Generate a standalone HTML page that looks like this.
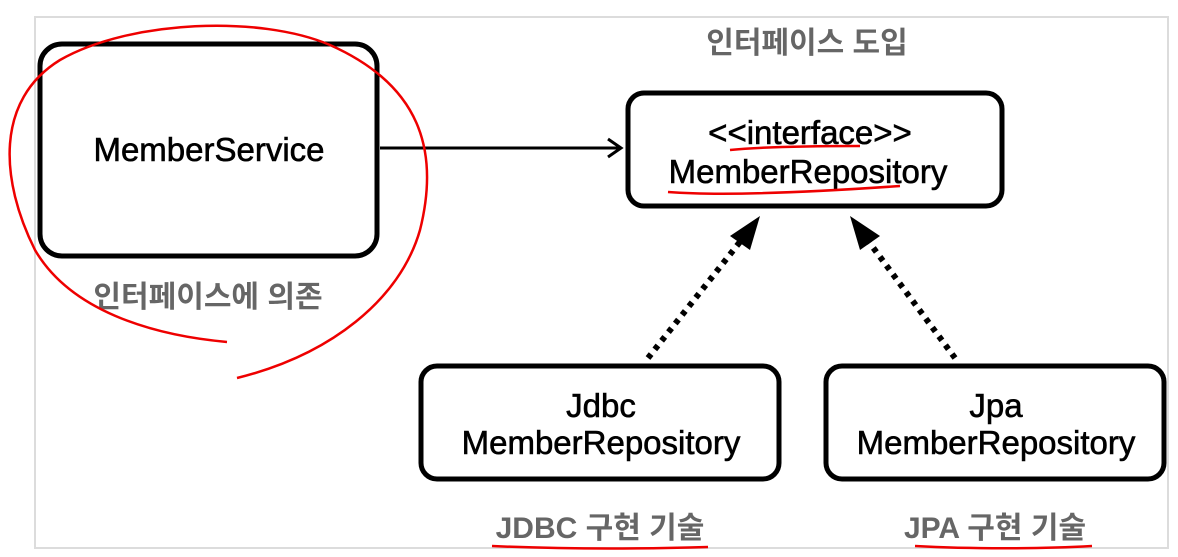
<!DOCTYPE html>
<html><head><meta charset="utf-8"><style>
body{margin:0;background:#fff;width:1178px;height:557px;overflow:hidden;font-family:"Liberation Sans","Noto Sans CJK KR",sans-serif}
</style></head><body>
<svg width="1178" height="557" xmlns="http://www.w3.org/2000/svg" style="position:absolute;left:0;top:0">
<rect x="35" y="17" width="1133" height="531" fill="#fff" stroke="#dcdcdc" stroke-width="2"/>
<g fill="none" stroke="#000" stroke-width="5">
<rect x="40" y="44" width="337" height="212" rx="22"/>
<rect x="628" y="93" width="374" height="113" rx="16"/>
<rect x="421" y="366" width="358" height="113" rx="16"/>
<rect x="826" y="366" width="338" height="113" rx="16"/>
</g>
<line x1="380" y1="148" x2="620" y2="148" stroke="#000" stroke-width="3"/>
<polyline points="608,139 621,148 608,157" fill="none" stroke="#000" stroke-width="3"/>
<line x1="648" y1="358" x2="743" y2="238" stroke="#000" stroke-width="6" stroke-dasharray="5,6"/>
<polygon points="760,216 730,236 750,250" fill="#000"/>
<line x1="955" y1="358" x2="866" y2="238" stroke="#000" stroke-width="6" stroke-dasharray="5,6"/>
<polygon points="850,216 860,250 880,236" fill="#000"/>
<g font-family="Liberation Sans, sans-serif" fill="#000" stroke="#000" stroke-width="0.6" font-size="33" text-anchor="middle">
<text x="209" y="161">MemberService</text>
<text x="810" y="144">&lt;&lt;interface&gt;&gt;</text>
<text x="808" y="183">MemberRepository</text>
<text x="601" y="417">Jdbc</text>
<text x="601" y="454">MemberRepository</text>
<text x="996" y="417">Jpa</text>
<text x="996" y="454">MemberRepository</text>
</g>
<g font-family="Liberation Sans, Noto Sans CJK KR, sans-serif" fill="#666" font-size="30" font-weight="bold" text-anchor="middle">
<text x="807" y="53">인터페이스 도입</text>
<text x="208" y="307">인터페이스에 의존</text>
<text x="600" y="538">JDBC 구현 기술</text>
<text x="995" y="538">JPA 구현 기술</text>
</g>
<g fill="none" stroke="#e00" stroke-width="2.5">
<path d="M227,342 C150,335 70,310 35,250 C0,180 -5,100 60,60 C130,20 260,15 330,45 C420,85 440,150 420,230 C400,300 330,355 237,378"/>
<path d="M730,150 C760,147 800,146 860,146"/>
<path d="M668,192 C720,196 800,193 900,186"/>
<path d="M492,546 C560,549 640,549 708,547"/>
<path d="M915,546 C970,549 1040,549 1092,546"/>
</g>
</svg>
</body></html>
